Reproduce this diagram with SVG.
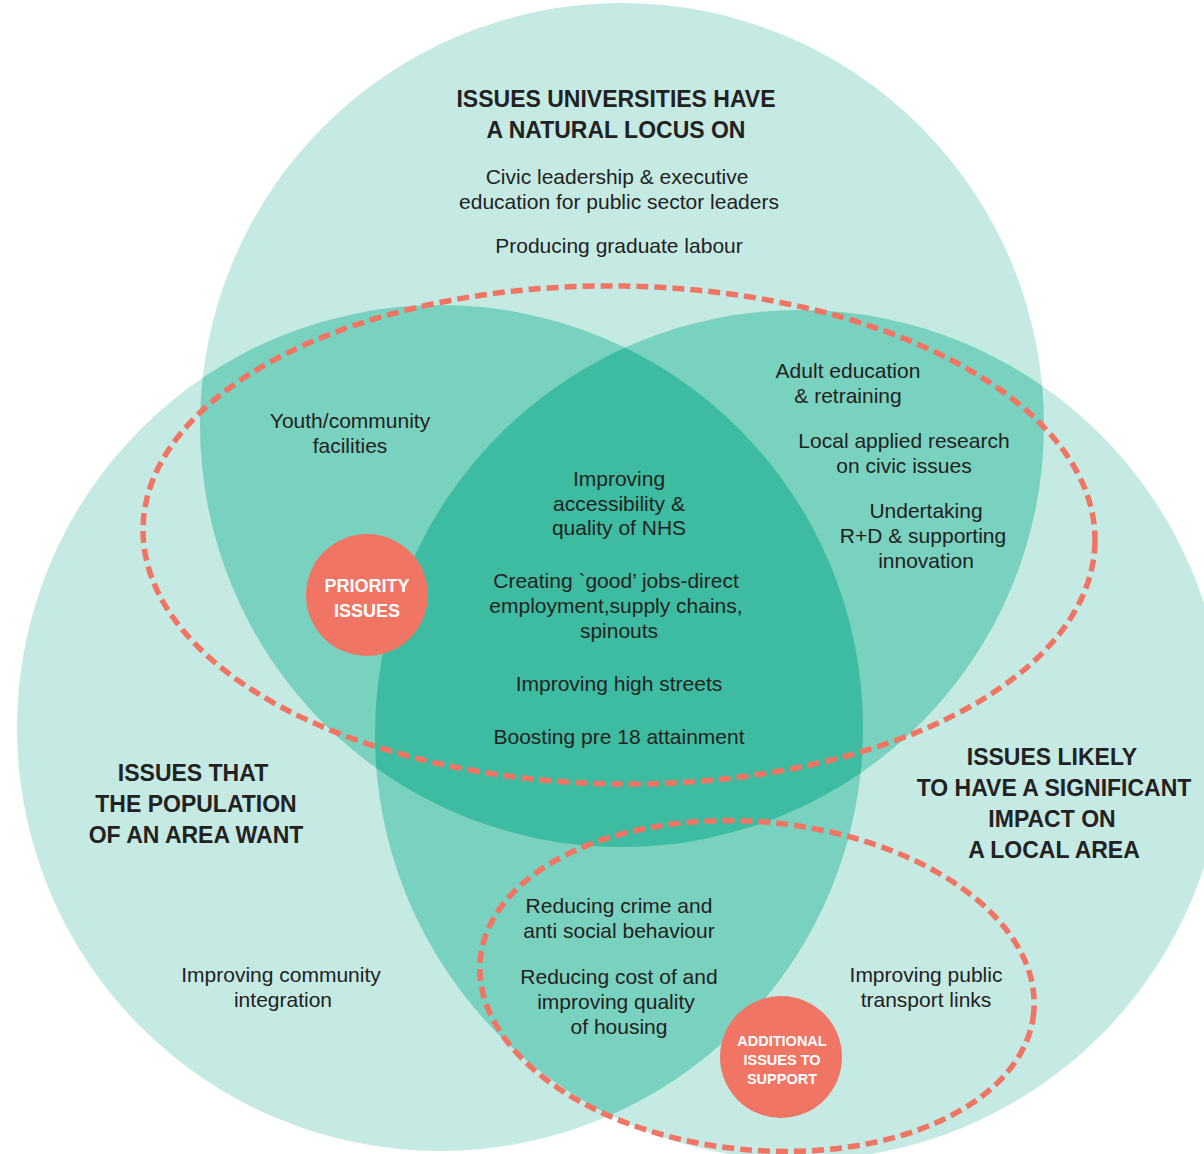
<svg xmlns="http://www.w3.org/2000/svg" width="1204" height="1154" viewBox="0 0 1204 1154">
<style>
.light{fill:#c5eae3}
.mid{fill:#79d1bf}
.dark{fill:#3dbca1}
.dash{fill:none;stroke:#f07565;stroke-width:5.5;stroke-dasharray:12 6}
.badge{fill:#f07565}
.t{font-family:"Liberation Sans",Arial,sans-serif;font-size:21px;fill:#222;text-anchor:middle}
.h{font-family:"Liberation Sans",Arial,sans-serif;font-size:23px;font-weight:bold;fill:#222;text-anchor:middle}
.b{font-family:"Liberation Sans",Arial,sans-serif;font-weight:bold;fill:#fff;text-anchor:middle}
</style>
<defs>
<clipPath id="cT"><circle cx="622" cy="425" r="422"/></clipPath>
<clipPath id="cL"><circle cx="440" cy="728" r="423"/></clipPath>
<clipPath id="cR"><circle cx="800" cy="735" r="425"/></clipPath>
</defs>
<rect width="1204" height="1154" fill="#ffffff"/>
<g id="sets">
<g id="set-universities"><circle class="light" cx="622" cy="425" r="422"/></g>
<g id="set-population"><circle class="light" cx="440" cy="728" r="423"/></g>
<g id="set-impact"><circle class="light" cx="800" cy="735" r="425"/></g>
<g id="overlaps">
<g clip-path="url(#cL)"><circle class="mid" cx="622" cy="425" r="422"/></g>
<g clip-path="url(#cR)"><circle class="mid" cx="622" cy="425" r="422"/></g>
<g clip-path="url(#cR)"><circle class="mid" cx="440" cy="728" r="423"/></g>
<g clip-path="url(#cR)"><g clip-path="url(#cL)"><circle class="dark" cx="622" cy="425" r="422"/></g></g>
</g>
</g>
<g id="connectors">
<ellipse id="priority-boundary" class="dash" cx="619" cy="535" rx="476" ry="249" transform="rotate(0.8 619 535)"/>
<ellipse id="additional-boundary" class="dash" cx="757" cy="986" rx="278" ry="164" transform="rotate(5.5 757 986)"/>
</g>
<g id="label-universities">
<text class="h" x="616" y="107">ISSUES UNIVERSITIES HAVE</text>
<text class="h" x="616" y="138">A NATURAL LOCUS ON</text>
<text class="t" x="617" y="184">Civic leadership &amp; executive</text>
<text class="t" x="619" y="209">education for public sector leaders</text>
<text class="t" x="619" y="253">Producing graduate labour</text>
</g>
<g id="label-youth">
<text class="t" x="350" y="428">Youth/community</text>
<text class="t" x="350" y="453">facilities</text>
</g>
<g id="label-right-top">
<text class="t" x="848" y="378">Adult education</text>
<text class="t" x="848" y="403">&amp; retraining</text>
<text class="t" x="904" y="448">Local applied research</text>
<text class="t" x="904" y="473">on civic issues</text>
<text class="t" x="926" y="518">Undertaking</text>
<text class="t" x="923" y="543">R+D &amp; supporting</text>
<text class="t" x="926" y="568">innovation</text>
</g>
<g id="label-center">
<text class="t" x="619" y="486">Improving</text>
<text class="t" x="619" y="511">accessibility &amp;</text>
<text class="t" x="619" y="535">quality of NHS</text>
<text class="t" x="616" y="588">Creating `good’ jobs-direct</text>
<text class="t" x="616" y="613">employment,supply chains,</text>
<text class="t" x="619" y="638">spinouts</text>
<text class="t" x="619" y="691">Improving high streets</text>
<text class="t" x="619" y="744">Boosting pre 18 attainment</text>
</g>
<g id="label-population">
<text class="h" x="193" y="781">ISSUES THAT</text>
<text class="h" x="196" y="812">THE POPULATION</text>
<text class="h" x="196" y="843">OF AN AREA WANT</text>
<text class="t" x="281" y="982">Improving community</text>
<text class="t" x="283" y="1007">integration</text>
</g>
<g id="label-impact">
<text class="h" x="1052" y="765">ISSUES LIKELY</text>
<text class="h" x="1054" y="796">TO HAVE A SIGNIFICANT</text>
<text class="h" x="1052" y="827">IMPACT ON</text>
<text class="h" x="1054" y="858">A LOCAL AREA</text>
<text class="t" x="926" y="982">Improving public</text>
<text class="t" x="926" y="1007">transport links</text>
</g>
<g id="label-bottom">
<text class="t" x="619" y="913">Reducing crime and</text>
<text class="t" x="619" y="938">anti social behaviour</text>
<text class="t" x="619" y="984">Reducing cost of and</text>
<text class="t" x="616" y="1009">improving quality</text>
<text class="t" x="619" y="1034">of housing</text>
</g>
<g id="priority-issues">
<circle class="badge" cx="367" cy="595" r="61"/>
<text class="b" font-size="18" x="367" y="592">PRIORITY</text>
<text class="b" font-size="18" x="367" y="617">ISSUES</text>
</g>
<g id="additional-issues">
<circle class="badge" cx="781" cy="1057" r="61"/>
<text class="b" font-size="14.5" x="782" y="1046">ADDITIONAL</text>
<text class="b" font-size="14.5" x="782" y="1065">ISSUES TO</text>
<text class="b" font-size="14.5" x="782" y="1084">SUPPORT</text>
</g>
</svg>
